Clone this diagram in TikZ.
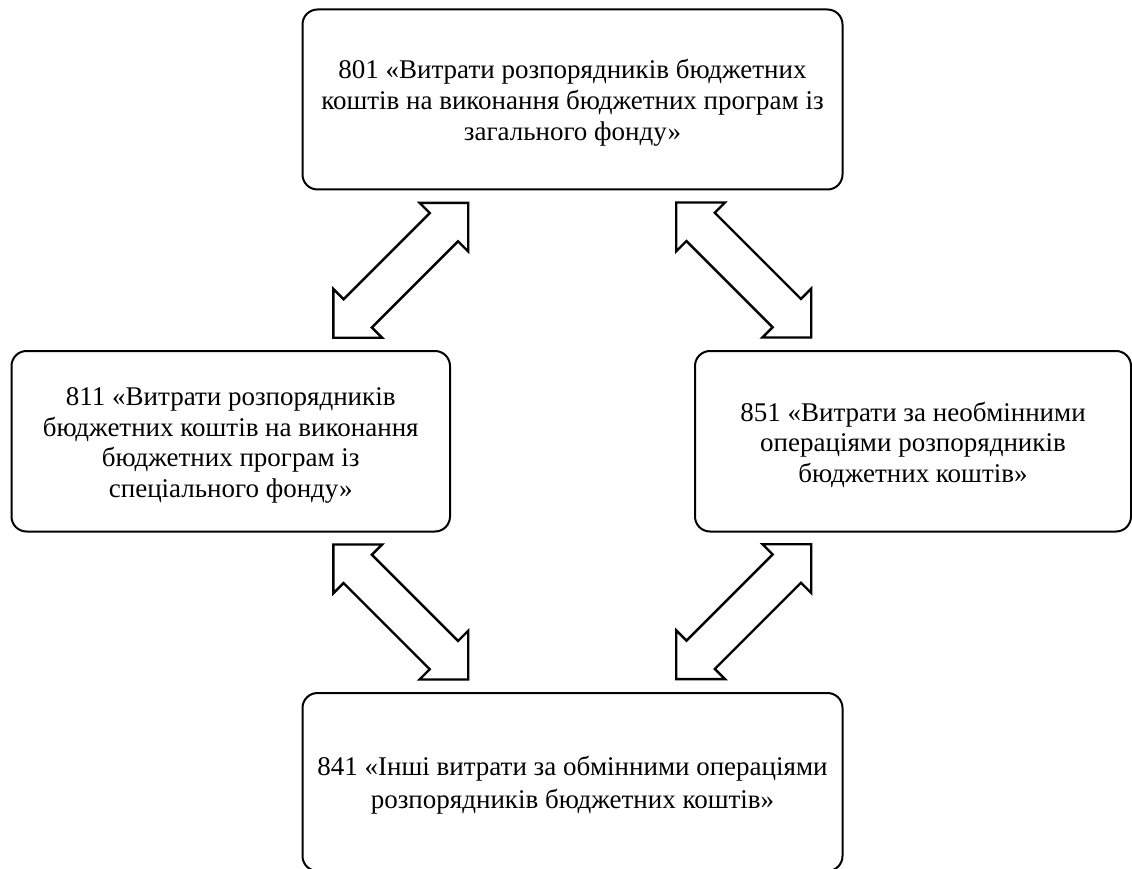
\documentclass[tikz,border=0pt]{standalone}
\usepackage{fontspec}
\setmainfont{Liberation Serif}
\usetikzlibrary{shapes.arrows}
\newcommand{\toppad}{\rule{0pt}{26.5pt}}
\begin{document}
\begin{tikzpicture}[x=1pt,y=-1pt,
  box/.style={draw=black, line width=2pt, rounded corners=15pt, align=center, inner sep=0pt, fill=white},
  dblarrow/.style={draw=black, line width=2.4pt, fill=white, double arrow,
    double arrow head extend=14.5pt, double arrow tip angle=90,
    minimum height=190.9pt, inner xsep=0pt, inner ysep=18.8pt}]
\useasboundingbox (0,0) rectangle (1132,869);

\node[box, minimum width=540pt, minimum height=180pt, font=\fontsize{27}{31}\selectfont] (b801) at (572.5,99.5)
  {\toppad801 «Витрати розпорядників бюджетних\\коштів на виконання бюджетних програм із\\загального фонду»};
\node[box, minimum width=438.5pt, minimum height=180.5pt, font=\fontsize{27}{30.5}\selectfont] (b811) at (230.75,441.25)
  {\toppad811 «Витрати розпорядників\\бюджетних коштів на виконання\\бюджетних програм із\\спеціального фонду»};
\node[box, minimum width=436pt, minimum height=180.5pt, font=\fontsize{27}{30.5}\selectfont] (b851) at (913,441.25)
  {\toppad851 «Витрати за необмінними\\операціями розпорядників\\бюджетних коштів»};
\node[box, minimum width=540pt, minimum height=178pt, font=\fontsize{27}{33}\selectfont] (b841) at (572.5,782)
  {\toppad841 «Інші витрати за обмінними операціями\\розпорядників бюджетних коштів»};

\node[dblarrow, rotate=45] (a1) at (400.8,270.3) {};
\node[dblarrow, rotate=-45] (a2) at (743.7,270) {};
\node[dblarrow, rotate=-45] (a3) at (400.8,612) {};
\node[dblarrow, rotate=45] (a4) at (743.7,611.7) {};
\end{tikzpicture}
\end{document}
